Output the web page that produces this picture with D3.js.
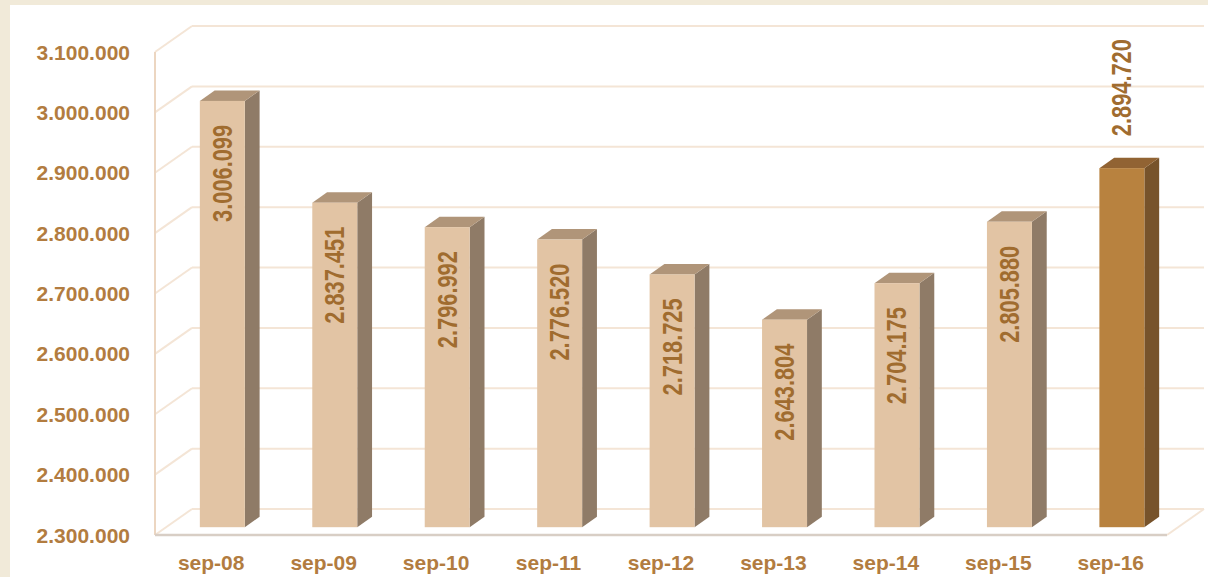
<!DOCTYPE html>
<html>
<head>
<meta charset="utf-8">
<script src="https://cdn.jsdelivr.net/npm/d3@7"></script>
<style>
  html, body { margin: 0; padding: 0; background: #fff; }
  svg { display: block; }
</style>
</head>
<body>
<div id="chart"></div>
<script>
// datos
const categories = ["sep-08", "sep-09", "sep-10", "sep-11", "sep-12", "sep-13", "sep-14", "sep-15", "sep-16"];
const values = [3006099, 2837451, 2796992, 2776520, 2718725, 2643804, 2704175, 2805880, 2894720];
const valueLabels = ["3.006.099", "2.837.451", "2.796.992", "2.776.520", "2.718.725", "2.643.804", "2.704.175", "2.805.880", "2.894.720"];
const tickValues = [2300000, 2400000, 2500000, 2600000, 2700000, 2800000, 2900000, 3000000, 3100000];
const tickLabels = ["2.300.000", "2.400.000", "2.500.000", "2.600.000", "2.700.000", "2.800.000", "2.900.000", "3.000.000", "3.100.000"];

const W = 1208, H = 577;
const depth = { dx: 37, dy: -26 };   // desplazamiento del plano trasero
const barZ0 = 0.3, barZ1 = 0.7;       // profundidad de las barras

const svg = d3.select("#chart")
    .append("svg")
    .attr("width", W)
    .attr("height", H);

// marco beige
svg.append("rect").attr("width", W).attr("height", H).attr("fill", "#f1ead9");
svg.append("rect").attr("x", 10).attr("y", 5).attr("width", W - 10).attr("height", H - 5).attr("fill", "#ffffff");

const x = d3.scaleBand()
    .domain(categories)
    .range([155, 1167]);

const y = d3.scaleLinear()
    .domain([2300000, 3100000])
    .range([535, 52]);

const x0 = x.range()[0], x1 = x.range()[1];
const gridColor = "#f4e5d6";

// rejilla: pared izquierda y pared de fondo
tickValues.forEach(t => {
    const yf = y(t), yb = y(t) + depth.dy;
    svg.append("line")
        .attr("x1", x0).attr("y1", yf)
        .attr("x2", x0 + depth.dx).attr("y2", yb)
        .attr("stroke", gridColor).attr("stroke-width", 2);
    svg.append("line")
        .attr("x1", x0 + depth.dx).attr("y1", yb)
        .attr("x2", x1 + depth.dx).attr("y2", yb)
        .attr("stroke", gridColor).attr("stroke-width", 2);
});

// suelo: borde derecho
svg.append("line")
    .attr("x1", x1).attr("y1", y(2300000))
    .attr("x2", x1 + depth.dx).attr("y2", y(2300000) + depth.dy)
    .attr("stroke", gridColor).attr("stroke-width", 2);

// eje vertical frontal
svg.append("line")
    .attr("x1", x0).attr("y1", y(3100000))
    .attr("x2", x0).attr("y2", y(2300000))
    .attr("stroke", "#ecd6c1").attr("stroke-width", 2);

// borde frontal del suelo
svg.append("line")
    .attr("x1", x0).attr("y1", y(2300000))
    .attr("x2", x1).attr("y2", y(2300000))
    .attr("stroke", "#d8cec5").attr("stroke-width", 2.5);

// barras 3D
const bw = x.bandwidth() * 0.4;
const ox0 = depth.dx * barZ0, oy0 = depth.dy * barZ0;
const ox1 = depth.dx * barZ1, oy1 = depth.dy * barZ1;

categories.forEach((c, i) => {
    const last = i === categories.length - 1;
    const cols = last
        ? { front: "#b8823f", side: "#77532b", top: "#916333" }
        : { front: "#e2c4a4", side: "#8f7b67", top: "#b09579" };
    const cx = x(c) + x.bandwidth() / 2 + ox0;
    const L = cx - bw / 2, R = cx + bw / 2;
    const T = y(values[i]) + oy0, B = y(2300000) + oy0;
    const dx = ox1 - ox0, dy = oy1 - oy0;

    const g = svg.append("g");
    g.append("path")
        .attr("d", `M${R},${T}L${R + dx},${T + dy}L${R + dx},${B + dy}L${R},${B}Z`)
        .attr("fill", cols.side);
    g.append("path")
        .attr("d", `M${L},${T}L${L + dx},${T + dy}L${R + dx},${T + dy}L${R},${T}Z`)
        .attr("fill", cols.top);
    g.append("rect")
        .attr("x", L).attr("y", T)
        .attr("width", bw).attr("height", B - T)
        .attr("fill", cols.front);

    // etiqueta de valor vertical
    const lab = g.append("text")
        .attr("font-family", "'Liberation Sans Narrow', 'Liberation Sans', Arial, sans-serif")
        .attr("font-weight", "bold")
        .attr("font-size", 28)
        .attr("fill", "#a06c2f")
        .attr("textLength", 97)
        .attr("lengthAdjust", "spacingAndGlyphs")
        .attr("dominant-baseline", "central")
        .text(valueLabels[i]);
    if (last) {
        lab.attr("text-anchor", "start")
            .attr("transform", `translate(${cx},${T - 32}) rotate(-90)`);
    } else {
        lab.attr("text-anchor", "end")
            .attr("transform", `translate(${cx},${T + 24}) rotate(-90)`);
    }
});

// etiquetas del eje Y
svg.append("g")
    .selectAll("text")
    .data(tickValues)
    .join("text")
    .attr("x", 130)
    .attr("y", d => y(d))
    .attr("text-anchor", "end")
    .attr("dominant-baseline", "central")
    .attr("font-family", "'Liberation Sans', Arial, sans-serif")
    .attr("font-weight", "bold")
    .attr("font-size", 21)
    .attr("fill", "#b27c40")
    .text((d, i) => tickLabels[i]);

// etiquetas del eje X
svg.append("g")
    .selectAll("text")
    .data(categories)
    .join("text")
    .attr("x", d => x(d) + x.bandwidth() / 2)
    .attr("y", 570)
    .attr("text-anchor", "middle")
    .attr("font-family", "'Liberation Sans', Arial, sans-serif")
    .attr("font-weight", "bold")
    .attr("font-size", 21)
    .attr("fill", "#b27c40")
    .text(d => d);
</script>
</body>
</html>
